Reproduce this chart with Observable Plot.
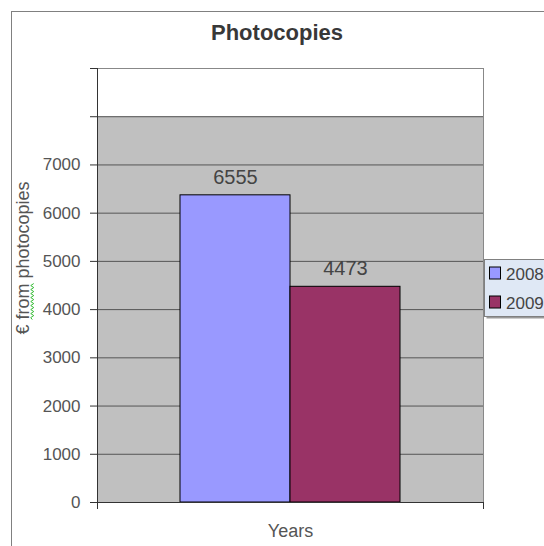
<!DOCTYPE html>
<html>
<head>
<meta charset="utf-8">
<script src="https://cdn.jsdelivr.net/npm/d3@7"></script>
<script src="https://cdn.jsdelivr.net/npm/@observablehq/plot@0.6"></script>
<style>
  html, body { margin: 0; padding: 0; background: #fff; overflow: hidden; }
  #chart { position: relative; width: 544px; height: 546px; }
</style>
</head>
<body>
<div id="chart"></div>
<script>
// ---- data ----
const chartTitle = "Photocopies";
const yLabel = "€ from photocopies";
const xLabel = "Years";
const years = ["2008", "2009"];
const barValues = [6370, 4473];        // bar heights as drawn
const barLabels = ["6555", "4473"];    // data labels as printed
const barColors = ["#9999ff", "#993366"];
const yTickValues = [0, 1000, 2000, 3000, 4000, 5000, 6000, 7000, 8000, 9000];
const yTickLabelMax = 7000;
const gridValues = [1000, 2000, 3000, 4000, 5000, 6000, 7000, 8000];
const shadedRange = [0, 8000];
const yDomain = [0, 9000];

const rows = years.map((y, i) => ({year: y, value: barValues[i], label: barLabels[i]}));
const shaded = [{lo: shadedRange[0], hi: shadedRange[1]}];

const font = "'Liberation Sans', Arial, sans-serif";

// decorations drawn from the plot's own dimensions and color scale
function decorations(index, scales, values, dim) {
  const g = d3.create("svg:g");
  const left = dim.marginLeft, right = dim.width - dim.marginRight;
  const top = dim.marginTop, bottom = dim.height - dim.marginBottom;
  // axis lines
  g.append("line").attr("x1", left + 0.5).attr("x2", left + 0.5)
    .attr("y1", top).attr("y2", bottom + 7).attr("stroke", "#333");
  g.append("line").attr("x1", left - 7).attr("x2", right)
    .attr("y1", bottom + 0.5).attr("y2", bottom + 0.5).attr("stroke", "#333");
  g.append("line").attr("x1", right + 0.5).attr("x2", right + 0.5)
    .attr("y1", bottom).attr("y2", bottom + 7).attr("stroke", "#333");
  // legend
  const ly = (top + bottom) / 2 + 3;
  const lx = right + 1;
  const rowH = 29;
  g.append("rect").attr("x", lx + 2.5).attr("y", ly - 26.5)
    .attr("width", 120).attr("height", 57).attr("fill", "#9a9a9a");
  g.append("rect").attr("x", lx + 0.5).attr("y", ly - 28.5)
    .attr("width", 120).attr("height", 57).attr("fill", "#dfe8f5").attr("stroke", "#808080");
  const color = scales.color;
  years.forEach((yr, i) => {
    const cy = ly - rowH / 2 + i * rowH;
    g.append("rect").attr("x", lx + 5.5).attr("y", cy - 6.5)
      .attr("width", 11).attr("height", 12)
      .attr("fill", color(yr)).attr("stroke", "#000");
    g.append("text").attr("x", lx + 22).attr("y", cy + 6)
      .attr("text-anchor", "start")
      .attr("font-size", 17).attr("fill", "#444").attr("font-family", font).text(yr);
  });
  return g.node();
}

function outerBorder(index, scales, values, dim) {
  const g = d3.create("svg:g");
  g.append("rect").attr("x", 11.5).attr("y", 11.5)
    .attr("width", dim.width).attr("height", dim.height)
    .attr("fill", "none").attr("stroke", "#808080");
  return g.node();
}

const plot = Plot.plot({
  width: 544,
  height: 546,
  marginLeft: 97,
  marginRight: 61,
  marginTop: 68,
  marginBottom: 44,
  style: {fontFamily: font, color: "#444", background: "#fff"},
  x: {type: "band", domain: years, paddingInner: 0, paddingOuter: 0.745, axis: null},
  y: {domain: yDomain, axis: null},
  color: {domain: years, range: barColors},
  marks: [
    outerBorder,
    Plot.rect(shaded, {y1: "lo", y2: "hi", fill: "#c0c0c0"}),
    Plot.ruleY(gridValues, {stroke: "#555"}),
    Plot.frame({stroke: "#888"}),
    Plot.axisY({
      ticks: yTickValues,
      tickFormat: d => d <= yTickLabelMax ? String(d) : "",
      tickSize: 7,
      tickPadding: 10,
      fontSize: 17,
      stroke: "#333",
      fill: "#555",
      label: null
    }),
    Plot.barY(rows, {x: "year", y: "value", fill: "year", stroke: "#000", strokeWidth: 1}),
    Plot.text(rows, {x: "year", y: "value", text: "label", dy: -18, fontSize: 20, fill: "#444", lineAnchor: "middle"}),
    Plot.text([chartTitle], {frameAnchor: "top", dx: -13.5, dy: -36, lineAnchor: "middle", fontSize: 22, fontWeight: "bold", fill: "#383838", letterSpacing: 1.2}),
    Plot.text([xLabel], {frameAnchor: "bottom", dy: 29, lineAnchor: "middle", fontSize: 18, fill: "#555"}),
    Plot.text([yLabel], {frameAnchor: "left", textAnchor: "middle", rotate: -90, dx: -74, dy: -27.5, lineAnchor: "middle", fontSize: 18, fill: "#555"}),
    decorations
  ]
});

document.getElementById("chart").appendChild(plot);

// spell-check squiggle under "from"
d3.select(plot).selectAll("text").each(function() {
  if (this.textContent === yLabel) {
    const word = yLabel.split(" ")[1];
    const i0 = yLabel.indexOf(word), i1 = i0 + word.length - 1;
    const a = this.getStartPositionOfChar(i0);
    const b = this.getEndPositionOfChar(i1);
    const fs = 18;
    const yb = a.y + 3;
    let d = `M${a.x},${yb}`;
    let up = true;
    for (let x = a.x + 2; x <= b.x + 0.01; x += 2) {
      d += `L${x},${yb + (up ? -1.5 : 1.5)}`;
      up = !up;
    }
    d3.select(this.parentNode).append("path")
      .attr("d", d)
      .attr("transform", this.getAttribute("transform"))
      .attr("fill", "none").attr("stroke", "#33bb33").attr("stroke-width", 1);
  }
});
</script>
</body>
</html>
